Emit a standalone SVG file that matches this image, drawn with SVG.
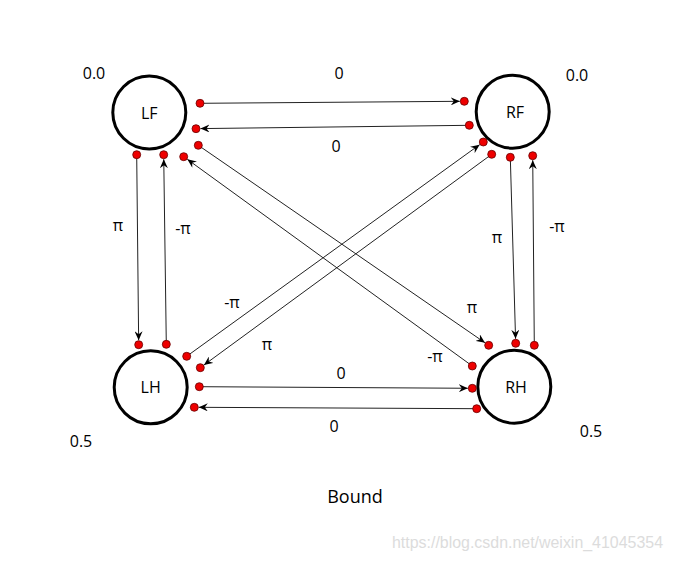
<svg xmlns="http://www.w3.org/2000/svg" width="673" height="561" viewBox="0 0 673 561">
<style>
.node{fill:#fff;stroke:#000;stroke-width:3}
.dot{fill:#e00;stroke:#600;stroke-width:0.8}
.edge{stroke:#222;stroke-width:1;fill:none;marker-end:url(#arr)}
text{font-family:"Open Sans","Noto Sans","DejaVu Sans",sans-serif;font-size:16px;fill:#000;text-anchor:middle}
.nl{font-size:16px}
.wm{font-family:"Liberation Sans",Arial,sans-serif;font-size:16px;fill:#dcdcdc;text-anchor:start}
</style>
<defs>
<marker id="arr" markerUnits="userSpaceOnUse" markerWidth="10" markerHeight="8" refX="9" refY="4" orient="auto">
<path d="M0,0 L9,4 L0,8 L3,4 z" fill="#000"/>
</marker>
</defs>
<rect width="673" height="561" fill="#fff"/>
<g id="connectors">
<line class="edge" x1="200" y1="103.3" x2="459.8" y2="101.3"/>
<line class="edge" x1="469.3" y1="125.3" x2="200.5" y2="128.6"/>
<line class="edge" x1="136.7" y1="154.7" x2="138.65" y2="340.2"/>
<line class="edge" x1="166.3" y1="344.3" x2="163.76" y2="159.2"/>
<line class="edge" x1="510.3" y1="157.3" x2="515.57" y2="338.8"/>
<line class="edge" x1="534.3" y1="345.3" x2="532.74" y2="160.2"/>
<line class="edge" x1="199.3" y1="386.7" x2="467.8" y2="388.27"/>
<line class="edge" x1="476.7" y1="408.7" x2="198.8" y2="407.32"/>
<line class="edge" x1="198.3" y1="145.3" x2="485" y2="342.75"/>
<line class="edge" x1="472.3" y1="366" x2="187.34" y2="159.34"/>
<line class="edge" x1="186.7" y1="356.3" x2="479.65" y2="144.64"/>
<line class="edge" x1="491.7" y1="154.3" x2="203.93" y2="365.04"/>
</g>
<g id="labels">
<text x="339" y="79">0</text>
<text x="336" y="152">0</text>
<text x="118" y="231">π</text>
<text x="183" y="234">-π</text>
<text x="497" y="243">π</text>
<text x="557" y="232">-π</text>
<text x="232" y="308">-π</text>
<text x="472" y="313">π</text>
<text x="267" y="350">π</text>
<text x="435" y="362">-π</text>
<text x="341" y="379">0</text>
<text x="334" y="432">0</text>
</g>
<g id="LF">
<circle class="node" cx="149.3" cy="112.5" r="36.5"/>
<text class="nl" x="149.3" y="119">LF</text>
<text class="nl" x="94" y="79">0.0</text>
<circle class="dot" cx="200" cy="103.3" r="4"/>
<circle class="dot" cx="196" cy="128.7" r="4"/>
<circle class="dot" cx="198.3" cy="145.3" r="4"/>
<circle class="dot" cx="183.7" cy="156.7" r="4"/>
<circle class="dot" cx="136.7" cy="154.7" r="4"/>
<circle class="dot" cx="163.7" cy="154.7" r="4"/>
</g>
<g id="RF">
<circle class="node" cx="512.7" cy="111.7" r="36.5"/>
<text class="nl" x="515" y="118">RF</text>
<text class="nl" x="577" y="81">0.0</text>
<circle class="dot" cx="464.3" cy="101.3" r="4"/>
<circle class="dot" cx="469.3" cy="125.3" r="4"/>
<circle class="dot" cx="483.3" cy="142" r="4"/>
<circle class="dot" cx="491.7" cy="154.3" r="4"/>
<circle class="dot" cx="510.3" cy="157.3" r="4"/>
<circle class="dot" cx="532.7" cy="155.7" r="4"/>
</g>
<g id="LH">
<circle class="node" cx="150.7" cy="387.3" r="36.5"/>
<text class="nl" x="150.7" y="393">LH</text>
<text class="nl" x="81" y="447">0.5</text>
<circle class="dot" cx="138.7" cy="344.7" r="4"/>
<circle class="dot" cx="166.3" cy="344.3" r="4"/>
<circle class="dot" cx="186.7" cy="356.3" r="4"/>
<circle class="dot" cx="200.3" cy="367.7" r="4"/>
<circle class="dot" cx="199.3" cy="386.7" r="4"/>
<circle class="dot" cx="194.3" cy="407.3" r="4"/>
</g>
<g id="RH">
<circle class="node" cx="514.3" cy="386.7" r="36.5"/>
<text class="nl" x="516" y="393">RH</text>
<text class="nl" x="591" y="437">0.5</text>
<circle class="dot" cx="488.7" cy="345.3" r="4"/>
<circle class="dot" cx="515.7" cy="343.3" r="4"/>
<circle class="dot" cx="534.3" cy="345.3" r="4"/>
<circle class="dot" cx="472.3" cy="366" r="4"/>
<circle class="dot" cx="472.3" cy="388.3" r="4"/>
<circle class="dot" cx="476.7" cy="408.7" r="4"/>
</g>
<text x="355" y="503" style="font-size:18px">Bound</text>
<text class="wm" x="392" y="548" textLength="271" lengthAdjust="spacingAndGlyphs">https://blog.csdn.net/weixin_41045354</text>
</svg>
